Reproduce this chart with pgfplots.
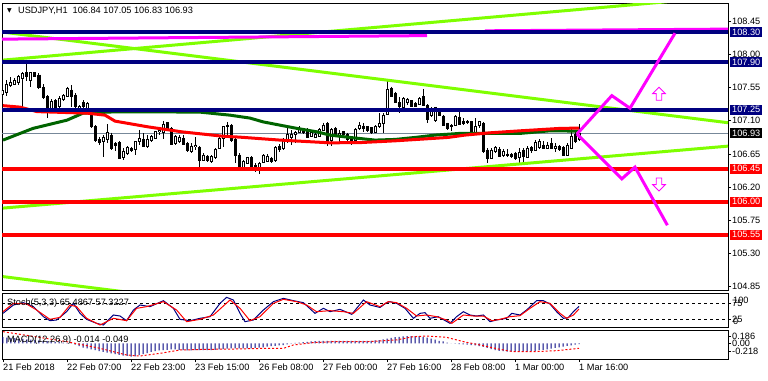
\documentclass[border=0pt]{standalone}
\usepackage{fontspec}
\setmainfont{Liberation Sans}
\newfontfamily\symfont{DejaVu Sans}
\usepackage{pgfplots}
\usepackage{pgfplotstable}
\usetikzlibrary{shapes.arrows}
\pgfplotsset{compat=1.18}
\definecolor{navyc}{HTML}{000080}
\definecolor{limec}{HTML}{7FFF00}
\definecolor{dgreen}{HTML}{006400}
\definecolor{magc}{HTML}{FF00FF}
\definecolor{bidc}{HTML}{778899}
\definecolor{redc}{HTML}{FF0000}

\pgfplotstableread{
i o h l c
0 107.462 107.525 107.444 107.507
1 107.480 107.652 107.435 107.598
2 107.580 107.688 107.562 107.616
3 107.598 107.675 107.580 107.643
4 107.616 107.725 107.589 107.698
5 107.675 107.765 107.267 107.743
6 107.752 107.879 107.643 107.707
7 107.652 107.761 107.562 107.752
8 107.752 107.761 107.698 107.707
9 107.720 107.743 107.535 107.553
10 107.553 107.598 107.399 107.417
11 107.426 107.448 107.131 107.208
12 107.222 107.390 107.199 107.358
13 107.371 107.390 107.236 107.245
14 107.290 107.435 107.263 107.403
15 107.390 107.462 107.371 107.444
16 107.435 107.562 107.417 107.539
17 107.516 107.580 107.290 107.435
18 107.448 107.471 107.245 107.290
19 107.236 107.313 107.177 107.290
20 107.344 107.381 107.267 107.290
21 107.245 107.358 107.236 107.335
22 107.222 107.254 106.996 107.018
23 107.018 107.041 106.814 106.837
24 106.846 106.882 106.769 106.810
25 106.814 106.900 106.611 106.873
26 106.846 107.054 106.792 106.937
27 106.905 106.937 106.701 106.724
28 106.792 106.810 106.692 106.765
29 106.801 106.819 106.574 106.588
30 106.602 106.724 106.565 106.679
31 106.656 106.756 106.633 106.737
32 106.724 106.747 106.679 106.692
33 106.710 106.828 106.633 106.814
34 106.814 106.973 106.769 106.860
35 106.846 106.928 106.737 106.756
36 106.747 106.905 106.724 106.846
37 106.837 106.905 106.814 106.882
38 106.860 106.964 106.846 106.950
39 106.950 107.018 106.905 106.973
40 106.946 107.095 106.846 107.054
41 107.073 107.086 106.973 106.982
42 106.996 107.009 106.769 106.783
43 106.792 106.905 106.769 106.882
44 106.814 106.905 106.792 106.873
45 106.860 106.905 106.769 106.783
46 106.792 106.814 106.679 106.692
47 106.679 106.792 106.656 106.756
48 106.747 106.873 106.701 106.769
49 106.737 106.756 106.475 106.565
50 106.565 106.656 106.556 106.633
51 106.620 106.633 106.543 106.556
52 106.543 106.633 106.529 106.611
53 106.602 106.728 106.574 106.710
54 106.724 106.873 106.710 106.860
55 106.860 107.027 106.737 107.018
56 107.041 107.086 106.882 107.027
57 107.041 107.054 106.814 106.837
58 106.846 106.860 106.520 106.633
59 106.633 106.656 106.429 106.452
60 106.452 106.565 106.429 106.543
61 106.520 106.611 106.511 106.602
62 106.602 106.620 106.475 106.484
63 106.497 106.520 106.407 106.452
64 106.466 106.543 106.375 106.520
65 106.529 106.647 106.520 106.633
66 106.552 106.647 106.543 106.620
67 106.588 106.611 106.529 106.543
68 106.556 106.756 106.543 106.737
69 106.756 106.783 106.679 106.710
70 106.724 106.860 106.701 106.837
71 106.814 107.009 106.792 106.919
72 106.873 106.973 106.769 106.919
73 106.919 106.964 106.792 106.937
74 106.937 107.027 106.928 106.996
75 106.982 106.996 106.919 106.937
76 106.973 106.996 106.860 106.873
77 106.882 106.964 106.873 106.937
78 106.873 106.950 106.860 106.919
79 106.891 106.996 106.882 106.982
80 106.973 107.073 106.955 107.041
81 107.063 107.086 106.756 106.801
82 106.828 107.000 106.756 106.982
83 106.996 107.018 106.905 106.919
84 106.891 106.973 106.801 106.928
85 106.950 106.964 106.905 106.919
86 106.919 106.937 106.828 106.846
87 106.873 106.891 106.769 106.837
88 106.837 106.996 106.828 106.982
89 106.996 107.086 106.973 107.041
90 107.027 107.063 106.950 106.996
91 107.018 107.027 106.950 106.964
92 107.005 107.018 106.919 106.937
93 106.937 107.041 106.928 107.027
94 107.018 107.208 106.996 107.063
95 107.063 107.199 106.937 107.177
96 107.190 107.652 107.177 107.525
97 107.539 107.562 107.417 107.435
98 107.471 107.494 107.335 107.344
99 107.344 107.426 107.199 107.299
100 107.281 107.417 107.267 107.403
101 107.344 107.403 107.313 107.394
102 107.371 107.381 107.281 107.290
103 107.335 107.358 107.281 107.299
104 107.326 107.417 107.313 107.403
105 107.426 107.525 107.299 107.313
106 107.313 107.326 107.063 107.118
107 107.177 107.290 107.154 107.267
108 107.100 107.290 107.086 107.281
109 107.254 107.267 107.163 107.177
110 107.163 107.177 107.027 107.041
111 107.063 107.073 106.973 106.996
112 107.041 107.054 106.964 107.018
113 107.041 107.177 107.027 107.163
114 107.145 107.222 107.041 107.054
115 107.086 107.131 107.041 107.063
116 107.086 107.109 107.054 107.073
117 107.086 107.100 106.905 106.919
118 106.928 107.131 106.919 107.018
119 107.041 107.100 106.996 107.086
120 107.063 107.086 106.665 106.679
121 106.701 106.724 106.520 106.588
122 106.588 106.724 106.574 106.701
123 106.679 106.756 106.665 106.737
124 106.710 106.737 106.602 106.611
125 106.633 106.710 106.611 106.679
126 106.647 106.710 106.611 106.633
127 106.647 106.665 106.588 106.620
128 106.656 106.679 106.565 106.588
129 106.602 106.724 106.520 106.665
130 106.701 106.724 106.543 106.611
131 106.602 106.756 106.588 106.724
132 106.737 106.756 106.665 106.692
133 106.701 106.837 106.692 106.801
134 106.737 106.846 106.710 106.814
135 106.769 106.828 106.710 106.724
136 106.724 106.814 106.710 106.769
137 106.792 106.860 106.710 106.724
138 106.724 106.792 106.679 106.756
139 106.747 106.769 106.692 106.710
140 106.737 106.756 106.620 106.633
141 106.633 106.792 106.620 106.769
142 106.724 106.996 106.710 106.891
143 106.919 106.973 106.801 106.814
144 106.840 107.050 106.830 106.930
}\candles

\pgfplotstableread{
i m
0 0.17
1 0.16
2 0.15
3 0.14
4 0.13
5 0.12
6 0.11
7 0.10
8 0.09
9 0.08
10 0.07
11 0.06
12 0.05
13 0.04
14 0.03
15 0.02
16 0.01
17 -0.01
18 -0.04
19 -0.08
20 -0.12
21 -0.14
22 -0.17
23 -0.19
24 -0.22
25 -0.24
26 -0.26
27 -0.28
28 -0.30
29 -0.32
30 -0.34
31 -0.35
32 -0.37
33 -0.36
34 -0.33
35 -0.30
36 -0.27
37 -0.24
38 -0.22
39 -0.20
40 -0.19
41 -0.18
42 -0.17
43 -0.17
44 -0.18
45 -0.19
46 -0.20
47 -0.20
48 -0.19
49 -0.19
50 -0.19
51 -0.19
52 -0.19
53 -0.18
54 -0.17
55 -0.16
56 -0.15
57 -0.14
58 -0.14
59 -0.14
60 -0.14
61 -0.14
62 -0.14
63 -0.13
64 -0.12
65 -0.11
66 -0.09
67 -0.08
68 -0.07
69 -0.06
70 -0.05
71 -0.03
72 -0.01
73 0.01
74 0.02
75 0.03
76 0.04
77 0.05
78 0.06
79 0.07
80 0.07
81 0.07
82 0.07
83 0.07
84 0.07
85 0.07
86 0.07
87 0.07
88 0.07
89 0.07
90 0.07
91 0.07
92 0.07
93 0.08
94 0.09
95 0.11
96 0.13
97 0.15
98 0.17
99 0.18
100 0.19
101 0.20
102 0.20
103 0.20
104 0.20
105 0.18
106 0.16
107 0.13
108 0.10
109 0.07
110 0.05
111 0.02
112 0.00
113 -0.01
114 -0.02
115 -0.03
116 -0.04
117 -0.05
118 -0.06
119 -0.08
120 -0.10
121 -0.13
122 -0.16
123 -0.19
124 -0.21
125 -0.22
126 -0.23
127 -0.23
128 -0.23
129 -0.23
130 -0.23
131 -0.23
132 -0.22
133 -0.21
134 -0.19
135 -0.18
136 -0.17
137 -0.15
138 -0.13
139 -0.11
140 -0.09
141 -0.07
142 -0.06
143 -0.04
144 -0.02
}\macd

\tikzset{vbox/.style={anchor=west, inner xsep=2pt, inner ysep=1pt, text=white, minimum height=10pt},
  hollowarrow/.style={single arrow, draw=magc, fill=white, line width=0.9pt, inner sep=2.3pt,
    minimum height=13pt, single arrow head extend=3.6pt, single arrow head indent=0pt}}

\begin{document}
\fontsize{9.2}{11}\selectfont
\begin{tikzpicture}
\path[use as bounding box, fill=white] (0pt,0pt) rectangle (768pt,380pt);
\pgfplotsset{
  chartbase/.style={
    scale only axis, width=726pt, xmin=-0.25, xmax=181.25,
    axis line style={line width=0.8pt, black},
    tick style={black, line width=0.6pt},
    tick align=outside, major tick length=3pt,
    ytick pos=right, yticklabel pos=right,
    yticklabel style={anchor=west, inner sep=0pt, xshift=1pt},
  },
}
% ---------------- main price panel ----------------
\begin{axis}[chartbase, height=287pt, at={(2pt,90pt)}, anchor=south west,
  ymin=104.80, ymax=108.70, xtick=\empty,
  ytick={104.85,105.30,105.75,106.20,106.65,107.10,107.55,108.00,108.45},
  yticklabels={104.85,105.30,105.75,106.20,106.65,107.10,107.55,108.00,108.45},
]
\addplot[bidc, line width=0.8pt] coordinates {(-0.25,106.93) (181.25,106.93)};
% wicks
\addplot[draw=none, mark=none, forget plot, error bars/.cd, y dir=minus, y explicit, error mark=none,
  error bar style={draw=black, line width=1pt}]
  table[x=i, y=h, y error minus expr={\thisrow{h}-\thisrow{l}}] {\candles};
% bodies
\addplot[draw=none, mark=none, forget plot, error bars/.cd, y dir=minus, y explicit, error mark=none,
  error bar style={draw=black, line width=3pt}]
  table[x=i, y expr={max(\thisrow{o},\thisrow{c})+0.0068}, y error minus expr={abs(\thisrow{o}-\thisrow{c})+0.0136}] {\candles};
% hollow insides of bullish bodies
\addplot[draw=none, mark=none, forget plot, error bars/.cd, y dir=minus, y explicit, error mark=none,
  error bar style={draw=white, line width=1pt}]
  table[x=i, y expr={\thisrow{c}-0.0068}, y error minus expr={max(\thisrow{c}-\thisrow{o}-0.0136,0)}] {\candles};
% moving averages
\addplot[dgreen, line width=3pt] coordinates {(0,106.837)(7.5,106.996)(16,107.108)(20,107.203)(28,107.221)(36.25,107.221)(49.25,107.217)(56.75,107.176)(61.75,107.136)(65,107.085)(69.25,107.040)(73.5,106.996)(78.5,106.949)(81.75,106.905)(86.75,106.873)(93,106.837)(98,106.846)(103,106.873)(108,106.905)(114.25,106.928)(129.25,106.928)(136.75,106.963)(144,106.959)};
\addplot[redc, line width=3pt] coordinates {(0,107.305)(4.25,107.285)(8.5,107.224)(21,107.203)(25.5,107.176)(28,107.095)(36.25,107.017)(44.75,106.949)(54.75,106.891)(59.25,106.877)(69.25,106.837)(81.75,106.800)(89.25,106.803)(98,106.827)(111.25,106.873)(115.5,106.905)(121.75,106.936)(129.25,106.963)(139.25,106.996)(144,107.000)};
% trend lines
\addplot[limec, line width=3pt] coordinates {(0,107.924)(181.25,108.790)};
\addplot[limec, line width=3pt] coordinates {(0,108.304)(181.25,107.073)};
\addplot[limec, line width=3pt] coordinates {(0,105.913)(181.25,106.755)};
\addplot[limec, line width=3pt] coordinates {(0,104.982)(30,104.778)};
\addplot[magc, line width=3pt] coordinates {(-0.25,108.209)(106,108.257)};
\addplot[magc, line width=3pt] coordinates {(120.5,108.322)(181.25,108.345)};
% horizontal levels
\addplot[navyc, line width=4pt] coordinates {(-0.25,108.30)(181.25,108.30)};
\addplot[navyc, line width=4pt] coordinates {(-0.25,107.90)(181.25,107.90)};
\addplot[navyc, line width=4pt] coordinates {(-0.25,107.25)(181.25,107.25)};
\addplot[redc, line width=4pt] coordinates {(-0.25,106.45)(181.25,106.45)};
\addplot[redc, line width=4pt] coordinates {(-0.25,106.00)(181.25,106.00)};
\addplot[redc, line width=4pt] coordinates {(-0.25,105.55)(181.25,105.55)};
% projections
\addplot[magc, line width=3pt] coordinates {(143.5,106.92)(152.2,107.441)(156.75,107.27)(168,108.29)};
\addplot[magc, line width=3pt] coordinates {(143.5,106.92)(154.7,106.31)(158,106.47)(166.1,105.68)};
\node[hollowarrow, shape border rotate=90] at (axis cs:164,107.448) {};
\node[hollowarrow, shape border rotate=270] at (axis cs:164,106.252) {};
\coordinate (L1) at (axis cs:181.25,108.30);
\coordinate (L2) at (axis cs:181.25,107.90);
\coordinate (L3) at (axis cs:181.25,107.25);
\coordinate (L4) at (axis cs:181.25,106.93);
\coordinate (L5) at (axis cs:181.25,106.45);
\coordinate (L6) at (axis cs:181.25,106.00);
\coordinate (L7) at (axis cs:181.25,105.55);
\end{axis}
\node[vbox, fill=navyc] at ([xshift=2pt]L1) {108.30};
\node[vbox, fill=navyc] at ([xshift=2pt]L2) {107.90};
\node[vbox, fill=navyc] at ([xshift=2pt]L3) {107.25};
\node[vbox, fill=black] at ([xshift=2pt]L4) {106.93};
\node[vbox, fill=redc] at ([xshift=2pt]L5) {106.45};
\node[vbox, fill=redc] at ([xshift=2pt]L6) {106.00};
\node[vbox, fill=redc] at ([xshift=2pt]L7) {105.55};
\node[anchor=west, inner sep=0pt] at (18pt,369pt) {USDJPY,H1\ \ 106.84 107.05 106.83 106.93};
\node[inner sep=0pt, font=\symfont\fontsize{6}{6}\selectfont] at (9.5pt,369.5pt) {▼};
% ---------------- stochastic panel ----------------
\begin{axis}[chartbase, height=34.4pt, at={(2pt,52.3pt)}, anchor=south west,
  ymin=-1.25, ymax=106.25, xtick=\empty, ytick={25,75}, yticklabels={25,75}]
\addplot[black, line width=0.6pt, dash pattern=on 3pt off 3pt] coordinates {(-0.25,75)(181.25,75)};
\addplot[black, line width=0.6pt, dash pattern=on 3pt off 3pt] coordinates {(-0.25,25)(181.25,25)};
\addplot[navyc, line width=1pt] coordinates {(0,43.6)(2.6,69.7)(5.1,77.0)(7.6,64.5)(10.1,33.2)(11.75,20.7)(13.4,22.8)(15.9,48.8)(17.6,74.9)(19.25,43.6)(20.9,24.9)(23.4,12.4)(25.1,7.2)(27.6,38.4)(29.25,35.3)(30.9,20.7)(32.6,54.0)(34.25,69.7)(36.75,64.5)(40.1,83.2)(42.6,59.3)(44.25,24.9)(46.75,20.7)(49.25,28.0)(51.75,33.2)(54.25,74.9)(55.9,93.6)(57.6,85.3)(59.25,43.6)(60.5,17.6)(62.6,22.8)(65.1,54.0)(67.6,80.1)(70.1,90.5)(72.6,83.2)(75.1,77.0)(78,43.6)(80.1,59.3)(81.75,48.8)(84.25,56.1)(87.2,40.5)(90.1,85.3)(91.75,69.7)(94.25,62)(95.9,77.0)(96.75,80.1)(98.4,74.9)(100.5,59.3)(102.6,28.0)(104.25,43.6)(105.5,45.7)(106.75,28.0)(108.8,33.2)(111.75,12.4)(113.4,33.2)(115.1,48.8)(116.75,38.4)(118.4,35.3)(120.1,38.4)(121.75,17.6)(123.4,22.8)(125.9,28.0)(127.2,43.6)(129.25,38.4)(130.9,54.0)(133.4,83.2)(135.1,83.2)(136.75,72.8)(138.4,48.8)(140.1,28.0)(141.3,30.1)(142.6,48.8)(144,65.49)};
\addplot[redc, line width=1pt] coordinates {(0,48.8)(2.6,74.9)(5.9,72.8)(8.4,54.0)(11.75,24.9)(14.25,31.1)(16.75,69.7)(18.4,64.5)(20.9,28.0)(24.25,7.2)(27.6,28.0)(30.9,20.7)(33.4,59.3)(35.9,64.5)(40.1,80.1)(43.4,54.0)(45.9,17.6)(49.25,24.9)(52.6,38.4)(56.75,85.3)(59.25,59.3)(61.75,20.7)(64.25,33.2)(67.6,74.9)(70.1,87.4)(73.4,80.1)(75.9,69.7)(78.4,48.8)(81.75,52.0)(85.1,48.8)(87.6,43.6)(90.9,80.1)(94.25,64.5)(96.3,80.1)(98.4,77.0)(100.9,59.3)(103.4,35.3)(105.9,38.4)(108.4,33.2)(110.9,22.8)(112.2,12.4)(115.1,38.4)(117.6,35.3)(120.1,35.3)(122.2,20.7)(124.25,24.9)(126.75,33.2)(129.25,36.3)(131.75,59.3)(134.25,80.1)(136.75,74.9)(139.25,43.6)(140.9,28.0)(142.6,38.4)(144,57.32)};
\end{axis}
\node[anchor=west, inner sep=0pt] at (7pt,77.3pt) {Stoch(5,3,3) 65.4867 57.3227};
\node[anchor=west, inner sep=0pt] at (733pt,79.5pt) {100};
\node[anchor=west, inner sep=0pt] at (733pt,58.5pt) {0};
% ---------------- MACD panel ----------------
\begin{axis}[chartbase, height=29pt, at={(2pt,21pt)}, anchor=south west,
  ymin=-0.436, ymax=0.369,
  ytick={-0.218,0,0.186}, yticklabels={-0.218,0.00,0.186},
  xtick={0,16,32,48,64,80,96,112,128,144}, xtick pos=bottom,
  xticklabels={21 Feb 2018,22 Feb 07:00,22 Feb 23:00,23 Feb 15:00,26 Feb 08:00,27 Feb 00:00,27 Feb 16:00,28 Feb 08:00,1 Mar 00:00,1 Mar 16:00},
  xticklabel style={anchor=north west, inner sep=0pt, xshift=0pt, yshift=-2pt},
]
\addplot[ybar, bar width=1pt, fill=navyc, draw=none] table[x=i, y=m] {\macd};
\addplot[redc, line width=1pt, dash pattern=on 2pt off 2pt] coordinates {(0,0.323)(15.9,0.046)(24.25,-0.14)(30.9,-0.325)(34.25,-0.353)(39.25,-0.279)(44.25,-0.186)(50.9,-0.168)(57.6,-0.159)(65.9,-0.14)(70.1,-0.14)(72.6,-0.047)(77.6,0.019)(82.6,0.046)(90.9,0.046)(98.4,0.093)(102.6,0.184)(105.9,0.202)(110.9,0.165)(115.1,0.046)(119.25,-0.047)(124.25,-0.168)(127.6,-0.233)(132.6,-0.233)(138.4,-0.205)(144,-0.14)};
\end{axis}
\node[anchor=west, inner sep=0pt] at (7pt,40pt) {MACD(12,26,9) -0.014 -0.049};
\end{tikzpicture}
\end{document}
